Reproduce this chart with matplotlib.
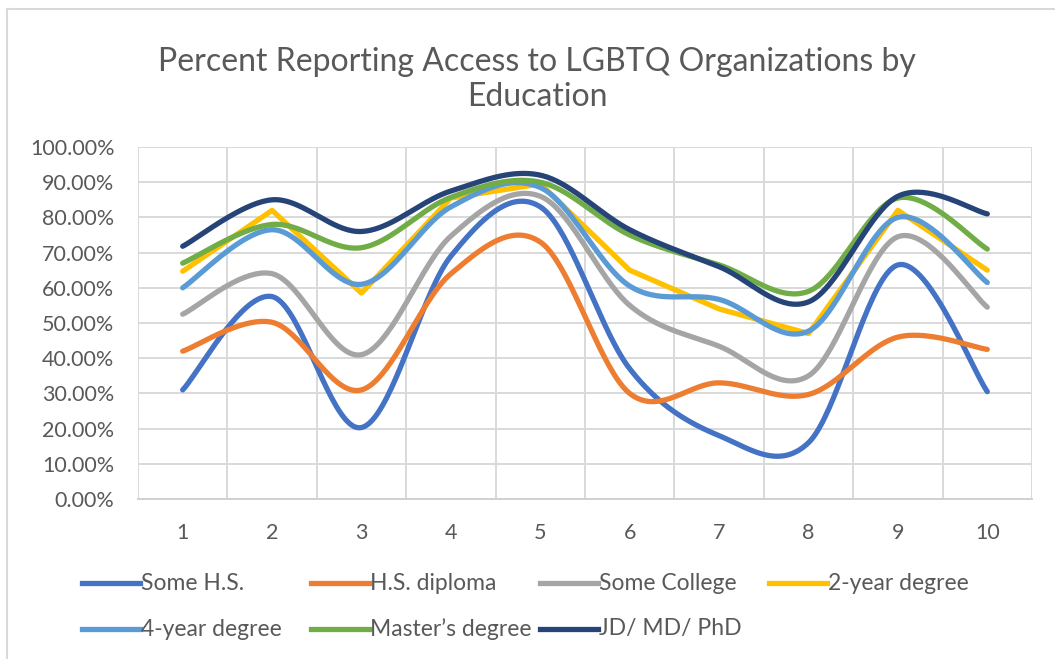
import numpy as np
import matplotlib
matplotlib.use("Agg")
import matplotlib.pyplot as plt
from matplotlib.lines import Line2D
from matplotlib.ticker import PercentFormatter

plt.rcParams['font.family'] = ['Lato', 'DejaVu Sans']

categories = [1, 2, 3, 4, 5, 6, 7, 8, 9, 10]
some_hs = [31, 57.5, 20.3, 69, 83, 37, 18, 16, 66.5, 30.5]
hs_diploma = [42, 50.2, 31, 64, 73, 30, 33, 29.7, 46, 42.5]
some_college = [52.5, 64, 41, 74.7, 86, 55, 43.4, 35, 74.5, 54.5]
two_year = [64.7, 82, 58.5, 85.5, 89.5, 65, 54, 47, 82, 65]
four_year = [60, 76.5, 61, 83, 88.5, 60.5, 56.7, 47.7, 80, 61.5]
masters = [67, 78, 71.4, 85.7, 90, 75, 66.5, 59, 85.5, 71]
doctorate = [71.8, 85, 76, 87.5, 92, 76.5, 66, 56, 86, 81]

series_names = ["Some H.S.", "H.S. diploma", "Some College", "2-year degree",
                "4-year degree", "Master\u2019s degree", "JD/ MD/ PhD"]
series_values = [some_hs, hs_diploma, some_college, two_year, four_year, masters, doctorate]
colors = ["#4472C4", "#ED7D31", "#A5A5A5", "#FFC000", "#5B9BD5", "#70AD47", "#264478"]
smoothed = [True, True, True, False, True, True, True]


def smooth(x, y, n=40):
    # excel-like smoothing: catmull-rom turned into cubic bezier pieces
    x = np.asarray(x, float)
    y = np.asarray(y, float)
    px = np.concatenate([[x[0]], x, [x[-1]]])
    py = np.concatenate([[y[0]], y, [y[-1]]])
    t = np.linspace(0, 1, n)
    xs, ys = [], []
    for i in range(1, len(px) - 2):
        p0, p1, p2, p3 = (np.array([px[j], py[j]]) for j in (i - 1, i, i + 1, i + 2))
        c1 = p1 + (p2 - p0) / 6
        c2 = p2 - (p3 - p1) / 6
        b = (((1 - t) ** 3)[:, None] * p1 + (3 * (1 - t) ** 2 * t)[:, None] * c1
             + (3 * (1 - t) * t ** 2)[:, None] * c2 + (t ** 3)[:, None] * p2)
        xs.append(b[:, 0])
        ys.append(b[:, 1])
    return np.concatenate(xs), np.concatenate(ys)


W, H = 1055, 659
fig = plt.figure(figsize=(W / 100, H / 100), dpi=100)
ax = fig.add_axes([138 / W, 1 - 499 / H, (1032 - 138) / W, (499 - 147) / H])

for name, vals, col, sm in zip(series_names, series_values, colors, smoothed):
    if sm:
        xs, ys = smooth(categories, vals)
    else:
        xs, ys = categories, vals
    ax.plot(xs, ys, color=col, lw=3.8, solid_capstyle='round', solid_joinstyle='round', label=name)

ax.set_xlim(0.5, 10.5)
ax.set_ylim(0, 100)
ax.set_yticks(np.arange(0, 101, 10))
ax.yaxis.set_major_formatter(PercentFormatter(decimals=2))
ax.set_xticks(categories)
ax.set_xticks(np.arange(0.5, 11, 1), minor=True)
ax.grid(True, which='major', axis='y', color='#d9d9d9', lw=1.4)
ax.grid(True, which='minor', axis='x', color='#d9d9d9', lw=1.4)
ax.set_axisbelow(True)
for s in ['top', 'right', 'left']:
    ax.spines[s].set_visible(False)
ax.spines['bottom'].set_color('#d0d0d0')
ax.spines['bottom'].set_linewidth(1.4)
ax.tick_params(axis='both', which='both', length=0, labelcolor='#595959', labelsize=15.5)
ax.tick_params(axis='x', pad=17)
ax.tick_params(axis='y', pad=17)

fig.text(537 / W, 1 - 62 / H, "Percent Reporting Access to LGBTQ Organizations by",
         ha='center', va='center', fontsize=23, color='#595959')
fig.text(537 / W, 1 - 97 / H, "Education", ha='center', va='center', fontsize=23, color='#595959')

# legend laid out like excel: two rows, fixed column pitch
for i, (name, col) in enumerate(zip(series_names, colors)):
    r, c = divmod(i, 4)
    x1 = 140 + c * 229
    x0 = x1 - 58
    yy = 1 - (583 + r * 46) / H
    fig.add_artist(Line2D([x0 / W, x1 / W], [yy, yy], color=col, lw=3.8, transform=fig.transFigure))
    fig.text((x1 + 1) / W, yy, name, ha='left', va='center', fontsize=16.5, color='#595959')

# chart frame
fig.add_artist(Line2D([7 / W, 1], [1 - 9 / H, 1 - 9 / H], color='#d9d9d9', lw=1.5, transform=fig.transFigure))
fig.add_artist(Line2D([7 / W, 7 / W], [0, 1 - 9 / H], color='#d9d9d9', lw=1.5, transform=fig.transFigure))

fig.savefig("out.png", dpi=100)
